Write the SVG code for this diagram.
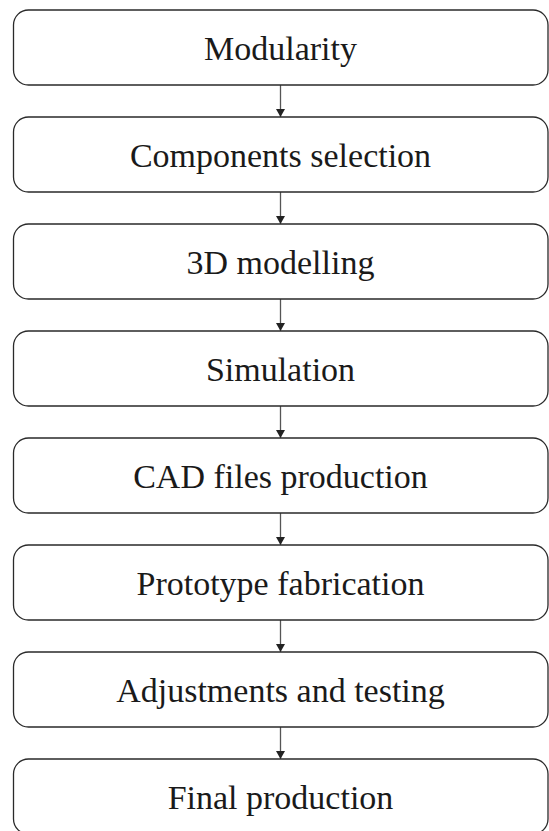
<svg xmlns="http://www.w3.org/2000/svg" width="549" height="831" viewBox="0 0 549 831">
<style>
.box{fill:#fff;stroke:#2a2a2a;stroke-width:1.3}
.lbl{font-family:"Liberation Serif","Times New Roman",serif;font-size:34px;fill:#1a1a1a;text-anchor:middle}
.conn{stroke:#555;stroke-width:1.3;fill:none}
</style>
<defs>
<marker id="ah" viewBox="0 0 8 9" refX="8" refY="4.5" markerWidth="8" markerHeight="9" markerUnits="userSpaceOnUse" orient="auto">
<path d="M0,0 L8,4.5 L0,9 Z" fill="#222"/>
</marker>
</defs>
<rect width="549" height="831" fill="#fff"/>
<g id="connectors">
<line class="conn" x1="280.5" y1="85" x2="280.5" y2="117" marker-end="url(#ah)"/>
<line class="conn" x1="280.5" y1="192" x2="280.5" y2="224" marker-end="url(#ah)"/>
<line class="conn" x1="280.5" y1="299" x2="280.5" y2="331" marker-end="url(#ah)"/>
<line class="conn" x1="280.5" y1="406" x2="280.5" y2="438" marker-end="url(#ah)"/>
<line class="conn" x1="280.5" y1="513" x2="280.5" y2="545" marker-end="url(#ah)"/>
<line class="conn" x1="280.5" y1="620" x2="280.5" y2="652" marker-end="url(#ah)"/>
<line class="conn" x1="280.5" y1="727" x2="280.5" y2="759" marker-end="url(#ah)"/>
</g>
<g id="n1"><rect class="box" x="13.5" y="10" width="534.5" height="75" rx="15"/><text class="lbl" x="280.5" y="59.5">Modularity</text></g>
<g id="n2"><rect class="box" x="13.5" y="117" width="534.5" height="75" rx="15"/><text class="lbl" x="280.5" y="166.5">Components selection</text></g>
<g id="n3"><rect class="box" x="13.5" y="224" width="534.5" height="75" rx="15"/><text class="lbl" x="280.5" y="273.5">3D modelling</text></g>
<g id="n4"><rect class="box" x="13.5" y="331" width="534.5" height="75" rx="15"/><text class="lbl" x="280.5" y="380.5">Simulation</text></g>
<g id="n5"><rect class="box" x="13.5" y="438" width="534.5" height="75" rx="15"/><text class="lbl" x="280.5" y="487.5">CAD files production</text></g>
<g id="n6"><rect class="box" x="13.5" y="545" width="534.5" height="75" rx="15"/><text class="lbl" x="280.5" y="594.5">Prototype fabrication</text></g>
<g id="n7"><rect class="box" x="13.5" y="652" width="534.5" height="75" rx="15"/><text class="lbl" x="280.5" y="701.5">Adjustments and testing</text></g>
<g id="n8"><rect class="box" x="13.5" y="759" width="534.5" height="75" rx="15"/><text class="lbl" x="280.5" y="808.5">Final production</text></g>
</svg>
